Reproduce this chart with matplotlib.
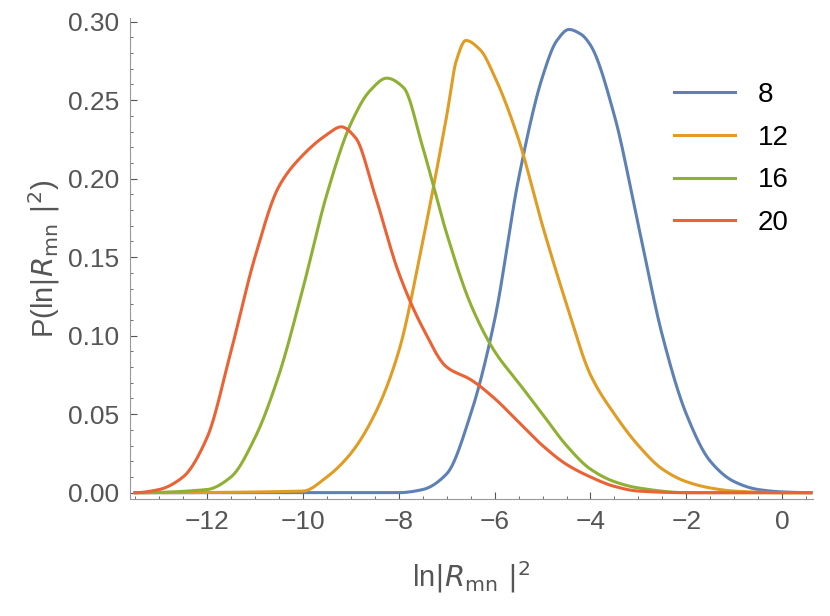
import matplotlib
matplotlib.use("Agg")
import matplotlib.pyplot as plt
import numpy as np

plt.rcParams["font.family"] = "Liberation Sans"
plt.rcParams["font.size"] = 19

x8 = [-13.5, -8, -7.5, -7, -6.5, -6, -5.5, -5, -4.7, -4.45, -4.2, -4, -3.5, -3, -2.5, -2, -1.5, -1, -0.5, 0, 0.6]
y8 = [0, 0, 0.002, 0.012, 0.05, 0.11, 0.2, 0.265, 0.288, 0.295, 0.292, 0.285, 0.24, 0.17, 0.10, 0.05, 0.02, 0.007, 0.002, 0.0005, 0]
x12 = [-13.5, -10, -9.5, -9, -8.5, -8, -7.5, -7, -6.8, -6.6, -6.3, -6, -5.5, -5, -4.5, -4, -3.5, -3, -2.5, -2, -1.5, -1, 0, 0.6]
y12 = [0, 0.001, 0.01, 0.025, 0.05, 0.09, 0.16, 0.24, 0.275, 0.288, 0.282, 0.265, 0.225, 0.17, 0.12, 0.075, 0.05, 0.03, 0.015, 0.007, 0.003, 0.001, 0, 0]
x16 = [-13.5, -12, -11.5, -11, -10.5, -10, -9.5, -9, -8.6, -8.25, -7.9, -7.5, -7, -6.5, -6, -5.5, -5, -4.5, -4, -3.5, -3, -2, 0.6]
y16 = [0, 0.002, 0.01, 0.035, 0.075, 0.13, 0.19, 0.235, 0.256, 0.264, 0.258, 0.22, 0.165, 0.12, 0.09, 0.07, 0.05, 0.03, 0.015, 0.007, 0.003, 0, 0]
x20 = [-13.5, -13, -12.5, -12, -11.5, -11, -10.5, -10, -9.5, -9.2, -8.9, -8.5, -8, -7.5, -7, -6.5, -6, -5.5, -5, -4.5, -4, -3.5, -3, -2, 0.6]
y20 = [0, 0.002, 0.01, 0.035, 0.09, 0.15, 0.195, 0.215, 0.228, 0.233, 0.226, 0.19, 0.14, 0.105, 0.08, 0.072, 0.06, 0.045, 0.03, 0.018, 0.01, 0.004, 0.001, 0, 0]

series = [("8", x8, y8, "#5E81B5"), ("12", x12, y12, "#E19C24"),
          ("16", x16, y16, "#8FB032"), ("20", x20, y20, "#EB6235")]


def smooth(x, y, n=800):
    # monotone cubic (Fritsch-Carlson) through the read points
    x = np.asarray(x, float)
    y = np.asarray(y, float)
    h = np.diff(x)
    d = np.diff(y) / h
    m = np.zeros_like(y)
    for i in range(1, len(y) - 1):
        if d[i - 1] * d[i] > 0:
            w1 = 2 * h[i] + h[i - 1]
            w2 = h[i] + 2 * h[i - 1]
            m[i] = (w1 + w2) / (w1 / d[i - 1] + w2 / d[i])
    xs = np.linspace(x[0], x[-1], n)
    k = np.clip(np.searchsorted(x, xs) - 1, 0, len(h) - 1)
    t = (xs - x[k]) / h[k]
    h00 = 2 * t**3 - 3 * t**2 + 1
    h10 = t**3 - 2 * t**2 + t
    h01 = -2 * t**3 + 3 * t**2
    h11 = t**3 - t**2
    ys = h00 * y[k] + h10 * h[k] * m[k] + h01 * y[k + 1] + h11 * h[k] * m[k + 1]
    return xs, ys


fig, ax = plt.subplots(figsize=(8.3, 6.16), dpi=100)
for name, x, y, c in series:
    sx, sy = smooth(x, y)
    ax.plot(sx, sy, color=c, lw=2.2, label=name)

gray = "#555555"
ax.set_xlim(-13.6, 0.65)
ax.set_ylim(-0.004, 0.302)
ax.set_xticks([-12, -10, -8, -6, -4, -2, 0])
ax.set_xticklabels(["\u221212", "\u221210", "\u22128", "\u22126", "\u22124", "\u22122", "0"])
ax.set_yticks(np.arange(0, 0.31, 0.05))
ax.set_yticklabels([f"{v:.2f}" for v in np.arange(0, 0.31, 0.05)])
ax.xaxis.set_minor_locator(matplotlib.ticker.MultipleLocator(0.5))
ax.yaxis.set_minor_locator(matplotlib.ticker.MultipleLocator(0.01))
for s in ["top", "right"]:
    ax.spines[s].set_visible(False)
for s in ["left", "bottom"]:
    ax.spines[s].set_color("#999999")
ax.tick_params(colors=gray, which="both", direction="in")
ax.tick_params(which="major", length=5, pad=8)
ax.tick_params(which="minor", length=2.5)
ax.set_xlabel(r"ln$|R_{\mathrm{mn}}\ |^2$", color=gray, fontsize=21, labelpad=18)
ax.set_ylabel(r"P(ln$|R_{\mathrm{mn}}\ |^2$)", color=gray, fontsize=21)
ax.legend(loc="upper right", frameon=False, handlelength=2.2, labelspacing=0.6,
          bbox_to_anchor=(1.0, 0.92), fontsize=20)

plt.subplots_adjust(left=0.157, right=0.98, top=0.97, bottom=0.19)
plt.savefig("out.png")
